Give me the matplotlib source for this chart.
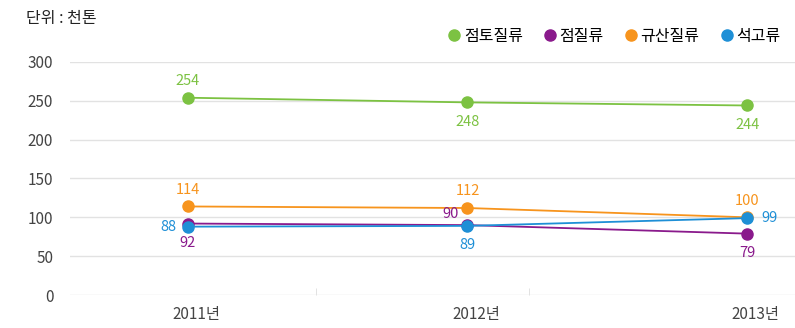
import matplotlib.pyplot as plt
from matplotlib.lines import Line2D
import numpy as np

plt.rcParams['font.family'] = ['Noto Sans CJK KR', 'DejaVu Sans']

years = ["2011년", "2012년", "2013년"]
names = ["점토질류", "점질류", "규산질류", "석고류"]
clay = [254, 248, 244]
sticky = [92, 90, 79]
silica = [114, 112, 100]
gypsum = [88, 89, 99]

colors = ["#7cc242", "#8a1a8c", "#f7941d", "#1e8fd6"]

fig = plt.figure(figsize=(7.95, 3.28), dpi=100)
ax = fig.add_axes([0.088, 0.1006, 0.912, 0.7104])

x = np.arange(len(years))
series = [clay, sticky, silica, gypsum]
for vals, c in zip(series, colors):
    ax.plot(x, vals, color=c, lw=1.3, marker="o", ms=8, zorder=3)

# value labels: (dx, dy) in points for each point
offsets = [
    [(0, 12), (0, -14), (0, -14)],
    [(0, -14), (-12, 8), (0, -14)],
    [(0, 12), (0, 12), (0, 12)],
    [(-14, 0), (0, -14), (16, 0)],
]
for vals, c, offs in zip(series, colors, offsets):
    for xi, v, (dx, dy) in zip(x, vals, offs):
        ax.annotate(str(v), (xi, v), xytext=(dx, dy), textcoords="offset points",
                    ha="center", va="center", color=c, fontsize=10.5)

ax.set_xlim(-0.42, 2.17)
ax.set_ylim(0, 300)
ax.set_yticks(range(0, 301, 50))
ax.set_xticks(x + 0.03)
ax.set_xticklabels(years)
ax.set_xticks([0.46, 1.22], minor=True)
ax.tick_params(axis="x", which="major", length=0, pad=8, labelsize=11, labelcolor="#444444")
ax.tick_params(axis="x", which="minor", length=5, direction="in", color="#dddddd")
ax.tick_params(axis="y", length=0, pad=12, labelsize=11, labelcolor="#444444")
ax.grid(axis="y", color="#e2e2e2", lw=1)
ax.set_axisbelow(True)
for s in ["top", "right", "left", "bottom"]:
    ax.spines[s].set_visible(False)

fig.text(0.033, 0.945, "단위 : 천톤", fontsize=11.5, color="#222222", va="center")

handles = [Line2D([], [], ls="none", marker="o", ms=8, color=c) for c in colors]
fig.legend(handles, names, loc="center right", bbox_to_anchor=(1.0, 0.89), ncol=4,
           frameon=False, fontsize=11.5, handletextpad=0.1, columnspacing=1.2,
           handlelength=1.0)

fig.savefig("out.png", dpi=100)
